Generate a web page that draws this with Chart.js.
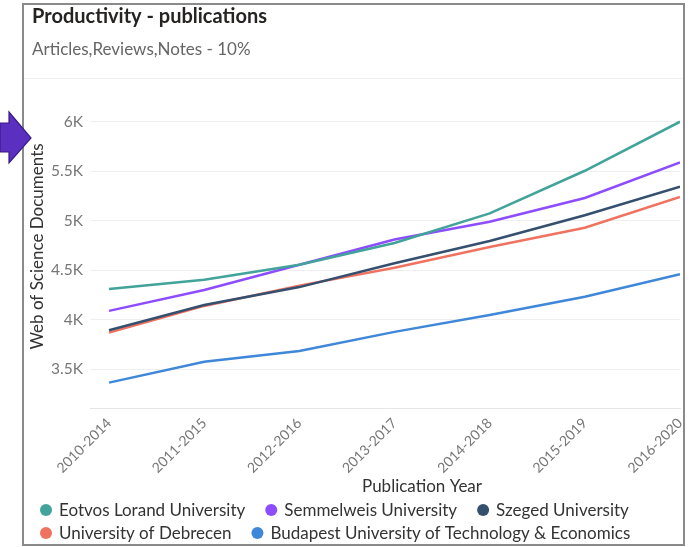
<!DOCTYPE html>
<html>
<head>
<meta charset="utf-8">
<script src="https://cdn.jsdelivr.net/npm/chart.js@4"></script>
<style>
  html, body { margin: 0; padding: 0; background: #fff; }
  #wrap { position: relative; width: 700px; height: 547px; overflow: hidden; }
  #wrap canvas { position: absolute; left: 0; top: 0; }
  .frame { position: absolute; left: 22px; top: 3px; width: 663px; height: 543px;
           box-sizing: border-box; border: 2px solid #8a8a8a; pointer-events: none; }
  .sep { position: absolute; left: 24px; top: 78px; width: 660px; height: 1px; background: #f1f1f1; }
  .arrow { position: absolute; left: 0; top: 110px; }
</style>
</head>
<body>
<div id="wrap">
  <canvas id="chart" width="700" height="547"></canvas>
  <div class="sep"></div>
  <div class="frame"></div>
  <svg class="arrow" width="34" height="56" viewBox="0 0 34 56">
    <polygon points="0,13 9,13 9,2 31,28 9,53 9,42 0,42" fill="#5b2fbf" stroke="#3a1b8a" stroke-width="1.2"/>
  </svg>
</div>
<script>
// === data ===
const years = ["2010-2014", "2011-2015", "2012-2016", "2013-2017", "2014-2018", "2015-2019", "2016-2020"];
const eotvos = [4310, 4405, 4555, 4775, 5075, 5505, 6000];
const semmelweis = [4090, 4300, 4555, 4810, 4990, 5230, 5590];
const szeged = [3895, 4150, 4330, 4570, 4795, 5055, 5345];
const debrecen = [3870, 4140, 4345, 4525, 4735, 4930, 5240];
const budapest = [3365, 3575, 3685, 3878, 4048, 4233, 4460];

const yTicks = [3500, 4000, 4500, 5000, 5500, 6000];
const xTitle = "Publication Year";

const FONT = "Lato, 'Open Sans', sans-serif";

// points on a linear x axis so the first category can sit a bit in from the left
function toPoints(vals) {
  return vals.map((v, i) => ({ x: i, y: v }));
}

function series(label, vals, color) {
  return {
    label: label,
    data: toPoints(vals),
    borderColor: color,
    backgroundColor: color,
    borderWidth: 2.5,
    pointRadius: 0,
    pointHoverRadius: 0,
    tension: 0,
    fill: false,
  };
}

// x axis title sits a little right of the plot centre, like the original
const xTitlePlugin = {
  id: "xTitle",
  afterDraw(chart) {
    const { ctx, chartArea } = chart;
    ctx.save();
    ctx.font = "17px " + FONT;
    ctx.fillStyle = "#333";
    ctx.textAlign = "center";
    ctx.textBaseline = "middle";
    ctx.fillText(xTitle, (chartArea.left + chartArea.right) / 2 + 37, 487);
    ctx.restore();
  },
};

// legend drawn by hand: wide gaps between items but tight rows (Power BI style)
const dotLegend = {
  id: "dotLegend",
  afterDraw(chart) {
    const ctx = chart.ctx;
    const left = 46, right = 682, rowH = 23, gap = 26, textOff = 13;
    let x = left, y = 510;
    ctx.save();
    ctx.font = "17px " + FONT;
    ctx.textBaseline = "middle";
    ctx.textAlign = "left";
    chart.data.datasets.forEach((ds) => {
      const w = ctx.measureText(ds.label).width;
      if (x !== left && x + textOff + w > right) {
        x = left;
        y += rowH;
      }
      ctx.fillStyle = ds.borderColor;
      ctx.beginPath();
      ctx.arc(x, y, 6, 0, Math.PI * 2);
      ctx.fill();
      ctx.fillStyle = "#333";
      ctx.fillText(ds.label, x + textOff, y + 1);
      x += textOff + w + gap;
    });
    ctx.restore();
  },
};

const ctx = document.getElementById("chart").getContext("2d");
const chart = new Chart(ctx, {
  type: "line",
  data: {
    datasets: [
      series("Eotvos Lorand University", eotvos, "#41a39a"),
      series("Semmelweis University", semmelweis, "#8d4dff"),
      series("Szeged University", szeged, "#34506e"),
      series("University of Debrecen", debrecen, "#f07260"),
      series("Budapest University of Technology & Economics", budapest, "#3f87d8"),
    ],
  },
  plugins: [xTitlePlugin, dotLegend],
  options: {
    responsive: false,
    animation: false,
    layout: { padding: { left: 32, right: 20, top: 0, bottom: 51 } },
    plugins: {
      title: {
        display: true,
        text: "Productivity - publications",
        align: "start",
        color: "#252423",
        font: { family: FONT, size: 20, weight: "bold" },
        padding: { top: 5, bottom: 0 },
      },
      subtitle: {
        display: true,
        text: "Articles,Reviews,Notes - 10%",
        align: "start",
        color: "#666",
        font: { family: FONT, size: 17 },
        padding: { top: 10.8, bottom: 24.8 },
      },
      legend: { display: false },
      tooltip: { enabled: false },
    },
    scales: {
      x: {
        type: "linear",
        min: -0.2,
        max: 6,
        grid: { display: false, drawTicks: false },
        border: { display: true, color: "#e6e6e6", width: 1 },
        ticks: {
          stepSize: 1,
          includeBounds: false,
          autoSkip: false,
          maxRotation: 45,
          minRotation: 45,
          padding: 7,
          color: "#777",
          font: { family: FONT, size: 14 },
          callback: (v) => years[v],
        },
        afterFit: (s) => { s.height = 88; },
      },
      y: {
        min: 3109,
        max: 6371,
        grid: { color: "#efefef", drawTicks: false },
        border: { display: false },
        afterBuildTicks: (s) => { s.ticks = yTicks.map((v) => ({ value: v })); },
        ticks: {
          padding: 7,
          color: "#777",
          font: { family: FONT, size: 15.5 },
          callback: (v) => (v / 1000) + "K",
        },
        title: {
          display: true,
          text: "Web of Science Documents",
          color: "#333",
          font: { family: FONT, size: 17 },
          padding: { top: -5, bottom: 0 },
        },
        afterFit: (s) => { s.width = 58; },
      },
    },
  },
});
</script>
</body>
</html>
